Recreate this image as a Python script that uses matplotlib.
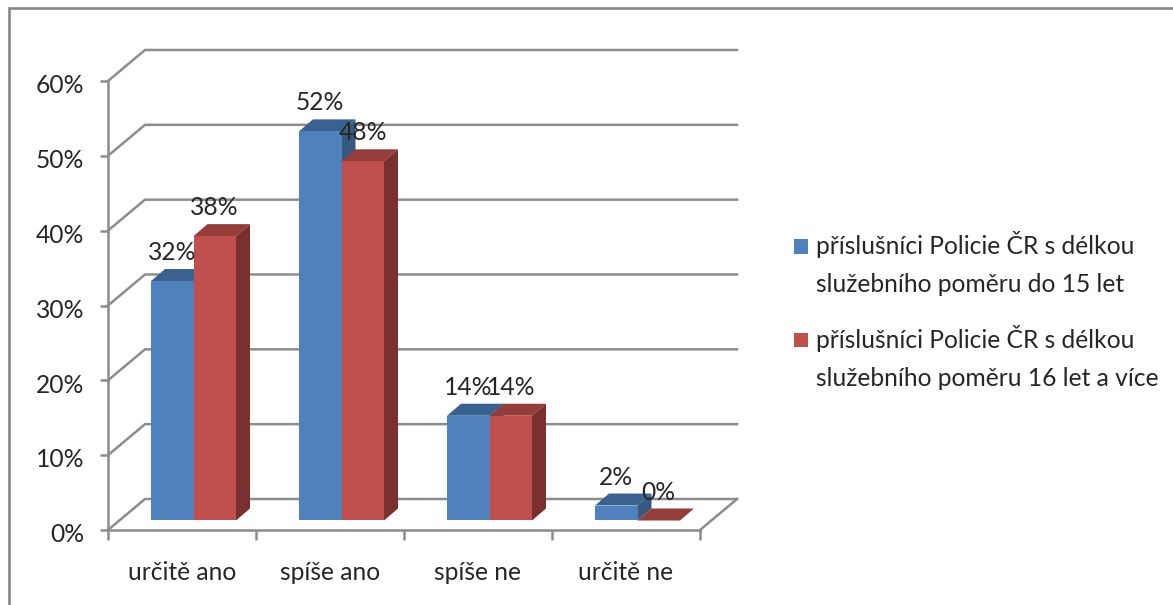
import matplotlib
matplotlib.use("Agg")
import matplotlib.pyplot as plt
from matplotlib.lines import Line2D
from matplotlib.legend_handler import HandlerPatch
from matplotlib.patches import Polygon, Rectangle, Patch
from matplotlib.transforms import ScaledTranslation

categories = ["určitě ano", "spíše ano", "spíše ne", "určitě ne"]
series_a = [32, 52, 14, 2]
series_b = [38, 48, 14, 0]
label_a = "příslušníci Policie ČR s délkou\nslužebního poměru do 15 let"
label_b = "příslušníci Policie ČR s délkou\nslužebního poměru 16 let a více"
y_ticks = [0, 10, 20, 30, 40, 50, 60]

W, H = 1173, 605
plt.rcParams["font.family"] = ["Lato", "DejaVu Sans"]
TXT = "#262626"
GRID = "#8c8c8c"
FS = 17.7

fig = plt.figure(figsize=(W / 100, H / 100), dpi=100)
fig.add_artist(Line2D([9 / W, 9 / W, 1], [0, 1 - 8 / H, 1 - 8 / H], transform=fig.transFigure,
                      color="#868686", lw=1.9, solid_joinstyle="miter"))
ax = fig.add_axes([108 / W, 1 - 530 / H, 592 / W, 449 / H])
ax.set_xlim(0, len(categories))
ax.set_ylim(0, 60)
ax.patch.set_alpha(0)

# depth of the chart box, in data units
DX, DY = 37 / 148, 31 / 7.483
# bar geometry, in data units
OFF_X, OFF_Y = 43 / 148, 9.5 / 7.483
BW = 42.5 / 148
BDX, BDY = 14 / 148, 12 / 7.483

for v in y_ticks:
    ax.plot([0, DX, len(categories) + DX], [v, v + DY, v + DY], color=GRID, lw=1.8,
            clip_on=False, zorder=1, solid_joinstyle="miter")
ax.plot([len(categories), len(categories) + DX], [0, DY], color=GRID, lw=1.8, clip_on=False, zorder=1)


def bar3d(x, v, front, top, side, z):
    y0 = OFF_Y
    y1 = OFF_Y + v
    ax.add_patch(Polygon([(x + BW, y0), (x + BW + BDX, y0 + BDY), (x + BW + BDX, y1 + BDY), (x + BW, y1)],
                         fc=side, ec="none", clip_on=False, zorder=z))
    ax.add_patch(Polygon([(x, y1), (x + BDX, y1 + BDY), (x + BW + BDX, y1 + BDY), (x + BW, y1)],
                         fc=top, ec="none", clip_on=False, zorder=z))
    if v > 0:
        ax.add_patch(Rectangle((x, y0), BW, v, fc=front, ec="none", clip_on=False, zorder=z))
    ax.annotate(f"{v}%", (x + BW / 2, y1), xytext=(0, 20.5), textcoords="offset points",
                ha="center", va="center", fontsize=FS, color=TXT, zorder=10, annotation_clip=False)


for i, (a, b) in enumerate(zip(series_a, series_b)):
    bar3d(i + OFF_X, a, "#4F81BD", "#3A6291", "#35597F", 3 + i)
    bar3d(i + OFF_X + BW, b, "#C0504D", "#953D3A", "#7A302E", 3.5 + i)

for s in ("top", "right"):
    ax.spines[s].set_visible(False)
for s in ("left", "bottom"):
    ax.spines[s].set_color(GRID)
    ax.spines[s].set_linewidth(1.8)
ax.set_yticks(y_ticks, [f"{v}%" for v in y_ticks])
ax.set_xticks(range(len(categories) + 1), [""] * (len(categories) + 1))
ax.set_xticks([i + 0.5 for i in range(len(categories))], categories, minor=True)
ax.tick_params(axis="y", length=6, width=1.8, color=GRID, pad=11, labelsize=FS, labelcolor=TXT)
ax.tick_params(axis="x", which="major", length=7, width=1.8, color=GRID)
ax.tick_params(axis="x", which="minor", length=0, pad=22, labelsize=FS, labelcolor=TXT)
for lab in ax.get_yticklabels():
    lab.set_transform(lab.get_transform() + ScaledTranslation(0, -2 / 72, fig.dpi_scale_trans))


def raised_square(legend, orig_handle, xdescent, ydescent, width, height, fontsize):
    return Rectangle((-xdescent, -ydescent + 13), width, height)


handles = [Patch(fc="#4F81BD", ec="none"), Patch(fc="#C0504D", ec="none")]
leg = fig.legend(handles, [label_a, label_b], loc="upper left", bbox_to_anchor=(794 / W, 1 - 231 / H),
                 frameon=False, fontsize=FS, labelcolor=TXT, handlelength=0.55, handleheight=0.55,
                 handletextpad=0.34, labelspacing=1.16, borderpad=0, borderaxespad=0,
                 handler_map={Patch: HandlerPatch(patch_func=raised_square)})
for t in leg.get_texts():
    t.set_linespacing(1.8)

fig.savefig("out.png", dpi=100)
